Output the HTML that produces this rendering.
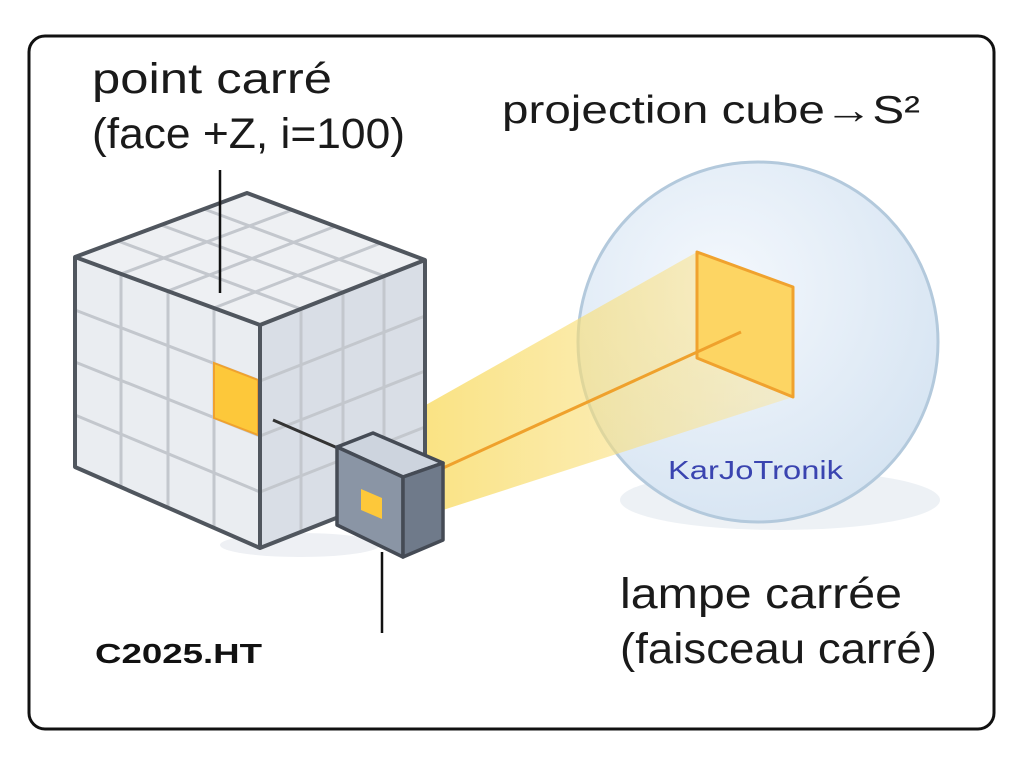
<!DOCTYPE html>
<html><head><meta charset="utf-8"><style>
html,body{margin:0;padding:0;background:#fff;}
svg{display:block;}
text{font-family:"Liberation Sans",sans-serif;}
</style></head><body>
<svg width="1024" height="767" viewBox="0 0 1024 767" xmlns="http://www.w3.org/2000/svg">
<defs>
<radialGradient id="sph" cx="0.4" cy="0.35" r="0.7">
<stop offset="0" stop-color="#f4f8fd"/><stop offset="1" stop-color="#d6e4f2"/>
</radialGradient>
<linearGradient id="beam" x1="0" y1="0" x2="1" y2="0">
<stop offset="0" stop-color="#f7d64a" stop-opacity="0.75"/><stop offset="1" stop-color="#fbe6a0" stop-opacity="0.5"/>
</linearGradient>
</defs>
<rect x="29" y="36" width="965" height="693" rx="16" fill="#fff" stroke="#111" stroke-width="3"/>

<ellipse cx="780" cy="500" rx="160" ry="30" fill="#e6ebf1" opacity="0.7"/>
<circle cx="758" cy="342" r="180" fill="url(#sph)" stroke="#b3c9dc" stroke-width="3"/>

<polygon points="378,432 697,252 793,397 443,510" fill="url(#beam)"/>
<polygon points="697,252 793,287 793,397 697,358" fill="#fdd563" stroke="#f0a22e" stroke-width="3" stroke-linejoin="round"/>
<line x1="443" y1="468" x2="741" y2="332" stroke="#efa12c" stroke-width="3"/>

<ellipse cx="300" cy="545" rx="80" ry="12" fill="#eef0f4"/>

<polygon points="75,257 247,193 425,260 260,325" fill="#eef0f3"/>
<polygon points="75,257 260,325 260,548 75,467" fill="#eaedf1"/>
<polygon points="260,325 425,260 425,483 260,548" fill="#d9dee6"/>
<g stroke="#c3c7cd" stroke-width="3">
<line x1="121" y1="274" x2="292" y2="210"/><line x1="168" y1="291" x2="336" y2="226"/><line x1="214" y1="308" x2="381" y2="243"/>
<line x1="118" y1="241" x2="301" y2="309"/><line x1="161" y1="225" x2="343" y2="292"/><line x1="204" y1="209" x2="384" y2="276"/>
<line x1="121" y1="274" x2="121" y2="487"/><line x1="168" y1="291" x2="168" y2="507"/><line x1="214" y1="308" x2="214" y2="528"/>
<line x1="75" y1="310" x2="260" y2="381"/><line x1="75" y1="362" x2="260" y2="436"/><line x1="75" y1="415" x2="260" y2="492"/>
<line x1="301" y1="309" x2="301" y2="532"/><line x1="343" y1="292" x2="343" y2="515"/><line x1="384" y1="276" x2="384" y2="499"/>
<line x1="260" y1="381" x2="425" y2="316"/><line x1="260" y1="436" x2="425" y2="371"/><line x1="260" y1="492" x2="425" y2="427"/>
</g>
<polygon points="214,363 258,380 258,435 214,418" fill="#fdc83a" stroke="#f0a22e" stroke-width="2"/>
<g fill="none" stroke="#50565e" stroke-width="4" stroke-linejoin="round">
<polygon points="75,257 247,193 425,260 425,483 260,548 75,467"/>
<polyline points="75,257 260,325 425,260"/>
<line x1="260" y1="325" x2="260" y2="548"/>
</g>

<line x1="220" y1="170" x2="220" y2="293" stroke="#111" stroke-width="2.5"/>
<line x1="273" y1="420" x2="340" y2="449" stroke="#333" stroke-width="3"/>
<line x1="382" y1="552" x2="382" y2="633" stroke="#111" stroke-width="2.5"/>

<g stroke="#454b55" stroke-width="3.5" stroke-linejoin="round">
<polygon points="337,447 373,433 443,463 403,477" fill="#cdd4de"/>
<polygon points="337,447 403,477 403,557 337,525" fill="#8a95a5"/>
<polygon points="403,477 443,463 443,540 403,557" fill="#6f7a8a"/>
</g>
<polygon points="361,489 382,498 382,519 361,510" fill="#fdc83a"/>

<text x="92" y="93" font-size="43" fill="#1a1a1a" textLength="240" lengthAdjust="spacingAndGlyphs">point carré</text>
<text x="92" y="148" font-size="43" fill="#1a1a1a" textLength="313" lengthAdjust="spacingAndGlyphs">(face +Z, i=100)</text>
<text x="502" y="123" font-size="39" fill="#1a1a1a" textLength="418" lengthAdjust="spacingAndGlyphs">projection cube→S²</text>
<text x="620" y="608" font-size="43" fill="#1a1a1a" textLength="282" lengthAdjust="spacingAndGlyphs">lampe carrée</text>
<text x="620" y="663" font-size="43" fill="#1a1a1a" textLength="317" lengthAdjust="spacingAndGlyphs">(faisceau carré)</text>
<text x="95" y="663" font-size="28" font-weight="bold" fill="#111" textLength="167" lengthAdjust="spacingAndGlyphs">C2025.HT</text>
<text x="668" y="479" font-size="26" fill="#3a44b0" textLength="175" lengthAdjust="spacingAndGlyphs">KarJoTronik</text>
</svg>
</body></html>
